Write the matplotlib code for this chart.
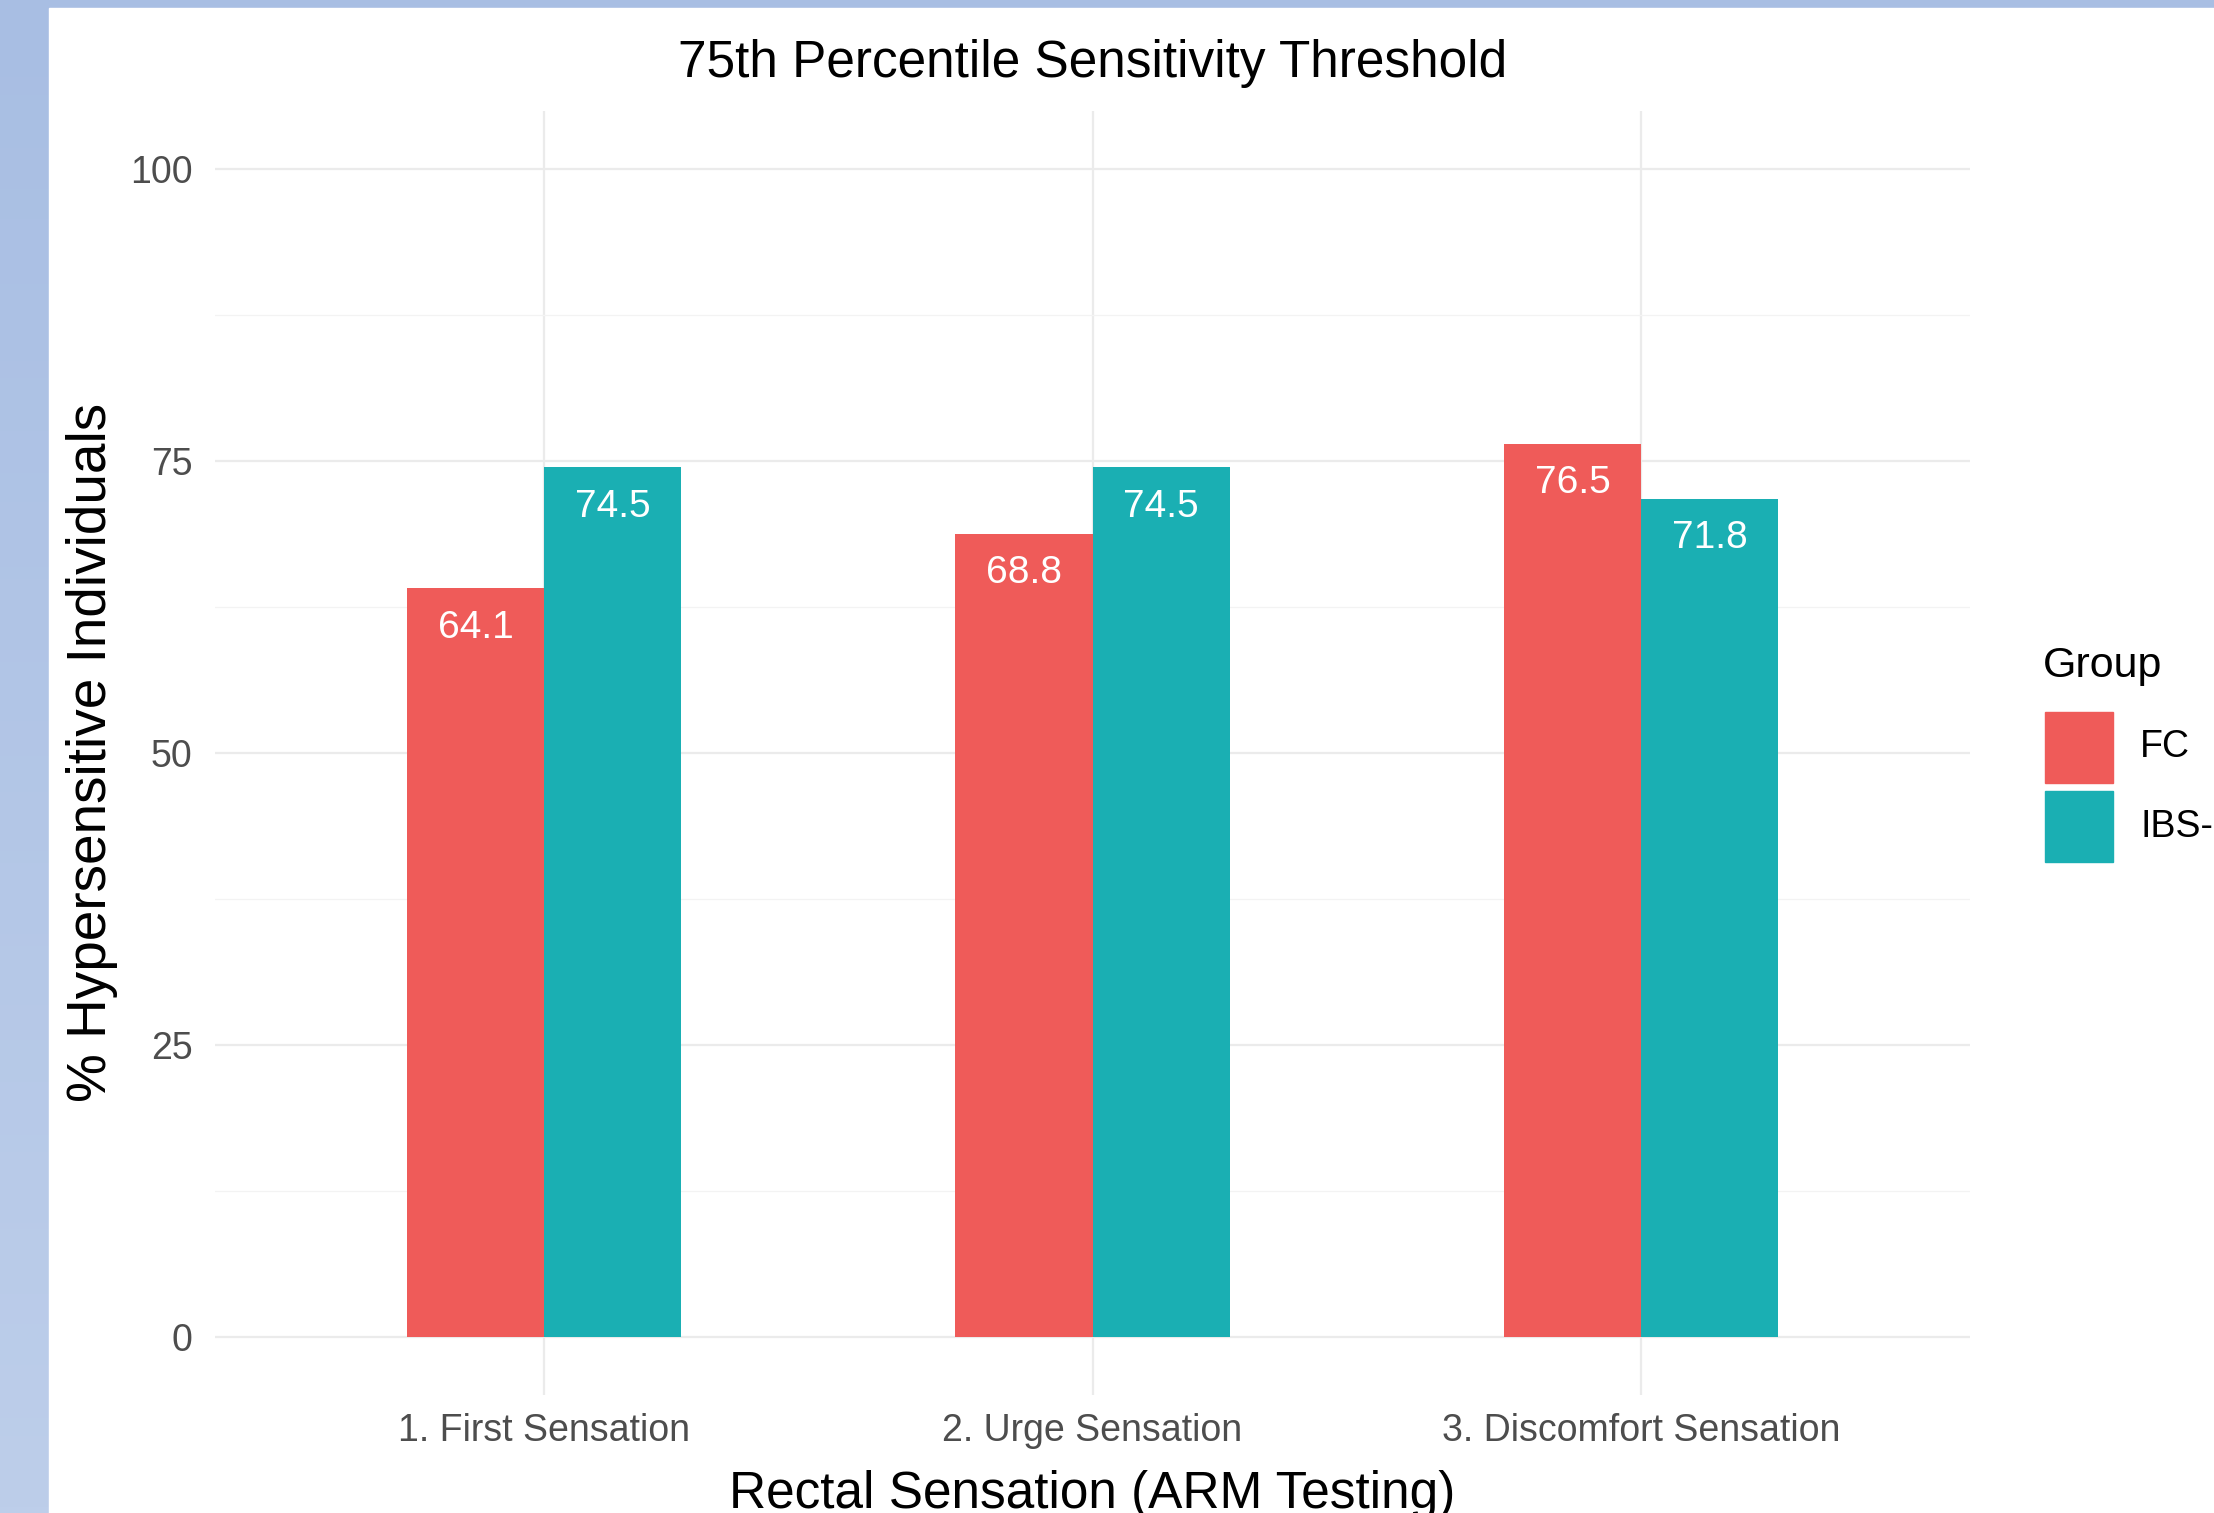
import numpy as np
import matplotlib.pyplot as plt
from matplotlib.patches import Rectangle
from matplotlib.colors import LinearSegmentedColormap

categories = ['1. First Sensation', '2. Urge Sensation', '3. Discomfort Sensation']
groups = ['FC', 'IBS-C']
fc_values = [64.1, 68.8, 76.5]
ibs_values = [74.5, 74.5, 71.8]
y_ticks = [0, 25, 50, 75, 100]
y_minor = [12.5, 37.5, 62.5, 87.5]
colors = ['#EF5B59', '#1AAFB3']

W, H = 2214, 1513
plt.rcParams['font.family'] = ['Liberation Sans', 'DejaVu Sans']
fig = plt.figure(figsize=(W / 100, H / 100), dpi=100)

# blue slide frame behind the chart
bg = fig.add_axes([0, 0, 1, 1], zorder=-10)
grad = np.linspace(0, 1, 256).reshape(-1, 1)
cmap = LinearSegmentedColormap.from_list('slide', ['#A8BEE3', '#BDCEEA'])
bg.imshow(grad, aspect='auto', cmap=cmap, extent=[0, 1, 0, 1])
bg.add_patch(Rectangle((49 / W, 0), 1, 1 - 8 / H, color='white'))
bg.set_xlim(0, 1)
bg.set_ylim(0, 1)
bg.axis('off')

ax = fig.add_axes([215 / W, 1 - 1395 / H, (1970 - 215) / W, (1395 - 111) / H])
ax.set_facecolor('white')
x = np.arange(1, len(categories) + 1)
bw = 0.25
for i, (vals, col) in enumerate(zip([fc_values, ibs_values], colors)):
    pos = x + (i - 0.5) * bw
    ax.bar(pos, vals, width=bw, color=col, zorder=3)
    for p, v in zip(pos, vals):
        ax.annotate(f'{v:.1f}', (p, v), xytext=(0, -28.5), textcoords='offset points',
                    ha='center', va='center', color='white', fontsize=28, zorder=4)

ax.set_xlim(0.4, 3.6)
ax.set_ylim(-5, 105)
ax.set_yticks(y_ticks)
ax.set_yticks(y_minor, minor=True)
ax.set_xticks(x, categories)
ax.grid(which='major', color='#EBEBEB', lw=1.6, zorder=0)
ax.grid(which='minor', axis='y', color='#F3F3F3', lw=0.9, zorder=0)
ax.set_axisbelow(True)
ax.tick_params(which='both', length=0, labelsize=27, labelcolor='#4D4D4D')
ax.tick_params(axis='x', pad=13)
ax.tick_params(axis='y', pad=16)
for s in ax.spines.values():
    s.set_visible(False)

cx = (215 + 1970) / 2 / W
fig.text(cx, 1 - 63 / H, '75th Percentile Sensitivity Threshold', ha='center', va='center', fontsize=37)
fig.text(cx, 1 - 1508 / H, 'Rectal Sensation (ARM Testing)', ha='center', va='baseline', fontsize=37)
fig.text(92 / W, 1 - 752 / H, '% Hypersensitive Individuals', rotation=90, ha='center', va='center', fontsize=39.5)

# legend
fig.text(2043 / W, 1 - 666 / H, 'Group', ha='left', va='center', fontsize=31)
for i, (g, col) in enumerate(zip(groups, colors)):
    top = 712 + i * 79
    fig.add_artist(Rectangle((2045 / W, 1 - (top + 71) / H), 68 / W, 71 / H,
                             transform=fig.transFigure, color=col))
    fig.text(2140 / W, 1 - (top + 35.5) / H, g, ha='left', va='center', fontsize=27)

fig.savefig('out.png', dpi=100)
